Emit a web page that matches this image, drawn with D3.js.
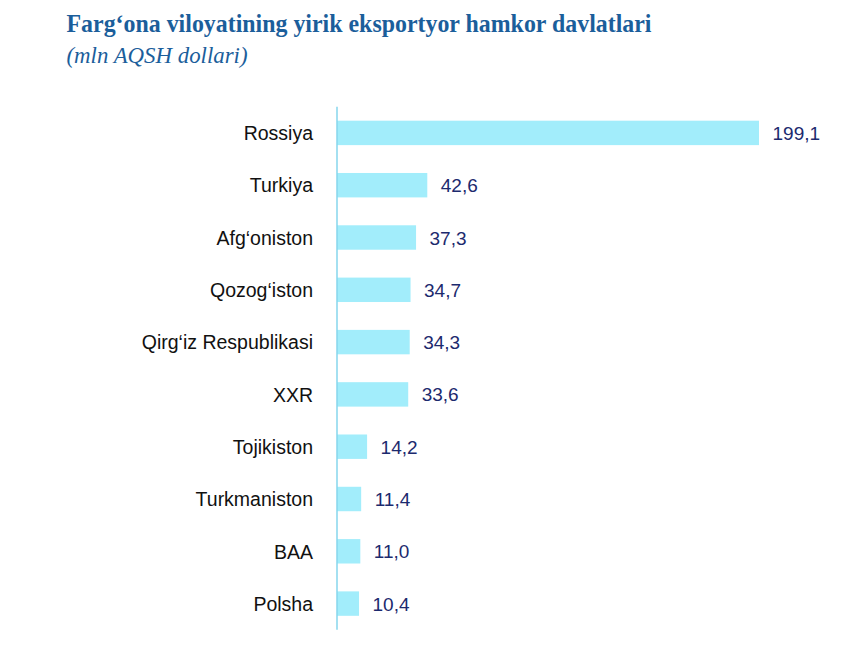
<!DOCTYPE html>
<html>
<head>
<meta charset="utf-8">
<title>Farg‘ona viloyatining yirik eksportyor hamkor davlatlari</title>
<style>
  body { margin: 0; background: #fff; }
</style>
</head>
<body>
<div id="container"></div>
<script src="https://cdnjs.cloudflare.com/ajax/libs/d3/7.8.5/d3.min.js"></script>
<script>
// Data
const countries = ["Rossiya", "Turkiya", "Afg‘oniston", "Qozog‘iston", "Qirg‘iz Respublikasi",
                   "XXR", "Tojikiston", "Turkmaniston", "BAA", "Polsha"];
const exports = [199.1, 42.6, 37.3, 34.7, 34.3, 33.6, 14.2, 11.4, 11.0, 10.4];

const title = "Farg‘ona viloyatining yirik eksportyor hamkor davlatlari";
const subtitle = "(mln AQSH dollari)";

const data = countries.map((c, i) => ({ country: c, value: exports[i] }));

// Chart dimensions
const width = 848;
const height = 654;
const marginTop = 106.75;
const plotBottom = 629.75;
const axisX = 337;

const x = d3.scaleLinear()
    .domain([0, 199.1])
    .range([axisX, 759]);

const y = d3.scaleBand()
    .domain(countries)
    .range([marginTop, plotBottom])
    .paddingInner(0.533)
    .paddingOuter(0.2665);

const svg = d3.create("svg")
    .attr("width", width)
    .attr("height", height);

// Title and subtitle
svg.append("text")
    .attr("x", 66.5)
    .attr("y", 32)
    .attr("fill", "#1b5e9b")
    .attr("font-family", "'Liberation Serif', 'Times New Roman', serif")
    .attr("font-weight", "bold")
    .attr("font-size", 25)
    .attr("textLength", 585)
    .attr("lengthAdjust", "spacingAndGlyphs")
    .text(title);

svg.append("text")
    .attr("x", 66.5)
    .attr("y", 63)
    .attr("fill", "#1b5e9b")
    .attr("font-family", "'Liberation Serif', 'Times New Roman', serif")
    .attr("font-style", "italic")
    .attr("font-size", 23)
    .attr("textLength", 181)
    .attr("lengthAdjust", "spacingAndGlyphs")
    .text(subtitle);

// Bars
svg.append("g")
    .attr("fill", "#a2edfb")
  .selectAll("rect")
  .data(data)
  .join("rect")
    .attr("x", x(0))
    .attr("y", d => y(d.country))
    .attr("width", d => x(d.value) - x(0))
    .attr("height", y.bandwidth());

// Category axis (left)
const yAxis = svg.append("g")
    .attr("transform", `translate(${axisX},0)`)
    .call(d3.axisLeft(y).tickSize(0).tickPadding(24));

yAxis.select(".domain")
    .attr("stroke", "#86d6ec")
    .attr("stroke-width", 1.5)
    .attr("d", `M0,${marginTop}V${plotBottom}`);

yAxis.selectAll("text")
    .attr("fill", "#111")
    .attr("dy", "0.37em")
    .attr("font-family", "'Liberation Sans', Arial, sans-serif")
    .attr("font-size", 19.5);

// Value labels
const fmt = v => d3.format(".1f")(v).replace(".", ",");

svg.append("g")
    .attr("fill", "#1c2a6e")
    .attr("font-family", "'Liberation Sans', Arial, sans-serif")
    .attr("font-size", 19)
  .selectAll("text")
  .data(data)
  .join("text")
    .attr("x", d => x(d.value) + 13.5)
    .attr("y", d => y(d.country) + y.bandwidth() / 2)
    .attr("dy", "0.37em")
    .text(d => fmt(d.value));

container.append(svg.node());
</script>
</body>
</html>
